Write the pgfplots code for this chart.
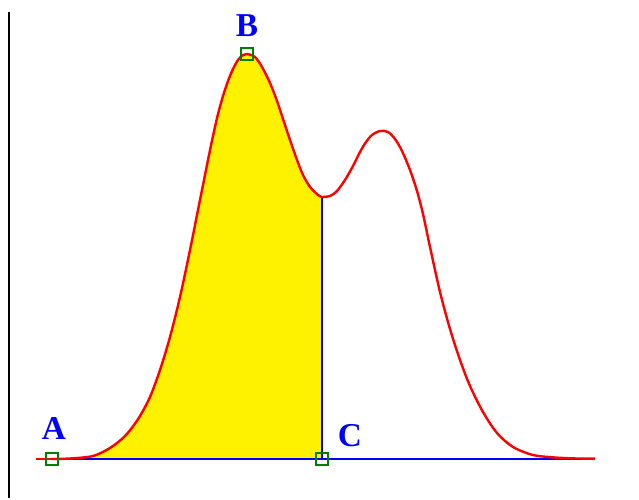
\documentclass[border=0pt]{standalone}
\usepackage{pgfplots}
\pgfplotsset{compat=1.18}
\usepackage{fontspec}
\newfontfamily\lblfont{Liberation Serif}

\definecolor{boxgreen}{RGB}{0,128,0}

% curve, x in px, y = px above the baseline
\pgfplotstableread{
x y
52 0
70 0.5
93 3
110 11
123 21
131 30
140 43
150 62
160 89
170 122
180 162
190 209
198 249
203 274
208 299
213 323
218 345
223 363
228 378
233 390
238 399
243 404
247 405
255 402
262 392
270 376
277 358
283 340
290 319
297 299
303 284
310 272
318 264
322 262
}\leftpart

\pgfplotstableread{
x y
322 262
330 263
337 268
345 279
353 293
360 307
366 317
372 324
380 328
388 327
395 320
402 308
410 289
417 268
423 245
430 212
440 167
450 130
460 99
470 73
483 47
497 26
513 12
533 4
555 1.5
577 0.5
595 0.5
}\rightpart

\begin{document}
\begin{tikzpicture}
\begin{axis}[
    scale only axis,
    width=479.25pt, height=373.5pt,
    xmin=0, xmax=639, ymin=-39, ymax=459,
    axis lines=none,
    clip=false,
]
% keep the whole canvas in the bounding box
\path (rel axis cs:0,0) rectangle (rel axis cs:1,1);
% left frame line
\addplot[black, line width=2.2pt] coordinates {(9,447) (9,-39)};
% shaded area A..C
\addplot[fill=yellow, draw=none, smooth] table {\leftpart} \closedcycle;
% red tails along the baseline
\addplot[red, line width=1.8pt] coordinates {(36,0) (595,0)};
% blue baseline and drop line at C
\addplot[blue, line width=2pt] coordinates {(52,0) (588,0)};
\addplot[blue, line width=2pt] coordinates {(322,0) (322,262)};
% the curve
\addplot[red, line width=1.8pt, smooth] table {\leftpart};
\addplot[red, line width=1.8pt, smooth] table {\rightpart};
% points A, B, C
\addplot[boxgreen, only marks, mark=square, mark size=4.5pt,
    mark options={line width=1.3pt}] coordinates {(52,0) (247,405) (322,0)};
\node[text=blue, font=\lblfont\bfseries\fontsize{25}{25}\selectfont] at (axis cs:54,31) {A};
\node[text=blue, font=\lblfont\bfseries\fontsize{25}{25}\selectfont] at (axis cs:247,433) {B};
\node[text=blue, font=\lblfont\bfseries\fontsize{25}{25}\selectfont] at (axis cs:350,23) {C};
\end{axis}
\end{tikzpicture}
\end{document}
